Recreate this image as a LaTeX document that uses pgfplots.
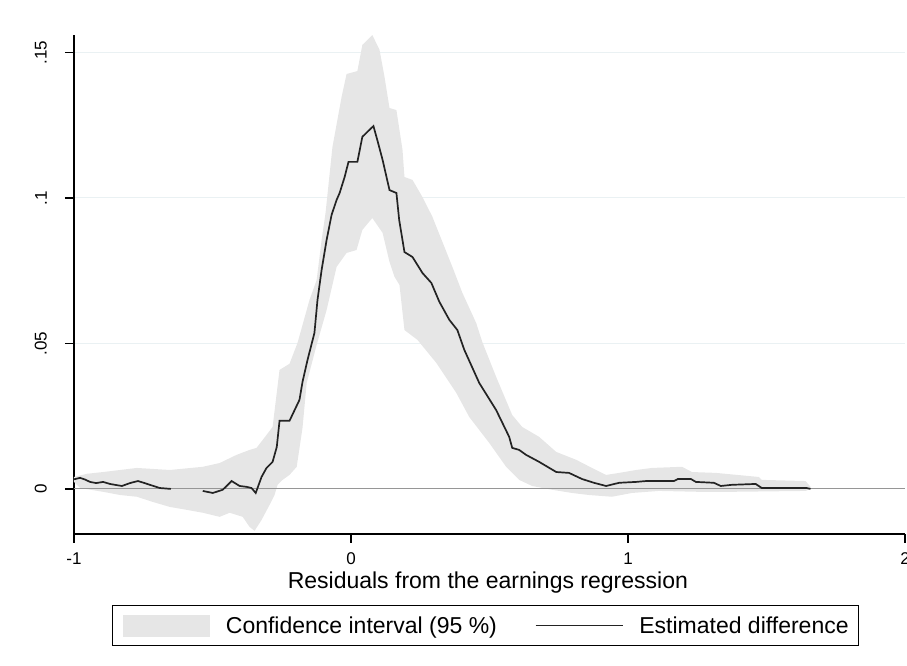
\documentclass[border=0pt]{standalone}
\usepackage{fontspec}
\setmainfont{Liberation Sans}
\usepackage{pgfplots}
\pgfplotsset{compat=1.18}
\definecolor{band}{RGB}{230,230,230}
\definecolor{est}{RGB}{35,35,35}
\definecolor{gridc}{RGB}{234,241,243}
\definecolor{zero}{RGB}{150,150,150}

\begin{document}
\begin{tikzpicture}
\path[use as bounding box] (-74pt,-132pt) rectangle (833pt,534pt);
\begin{axis}[
    at={(0,0)}, anchor=south west,
    scale only axis, width=831pt, height=499pt,
    xmin=-1, xmax=2, ymin=-0.0155, ymax=0.156,
    axis x line*=bottom, axis y line*=left,
    axis line style={line width=1.3pt, black, -},
    xtick={-1,0,1,2}, xticklabels={-1,0,1,2},
    ytick={0,0.05,0.1,0.15},
    yticklabels={\rotatebox{90}{0},\rotatebox{90}{.05},\rotatebox{90}{.1},\rotatebox{90}{.15}},
    tick align=outside, major tick length=9pt,
    tick style={line width=1.3pt, black},
    ymajorgrids, grid style={gridc, line width=1pt},
    ticklabel style={font=\fontsize{17}{20}\selectfont},
    yticklabel style={anchor=east, inner sep=0pt, xshift=-18pt},
    xticklabel shift=6pt,
    xlabel={Residuals from the earnings regression},
    xlabel style={at={(axis description cs:0.498,0)}, anchor=base, yshift=-54pt,
        font=\fontsize{23}{26}\selectfont},
    unbounded coords=jump,
    legend columns=2,
    legend cell align=left,
    legend style={at={(axis description cs:0.4955,-0.1423)}, anchor=north,
        draw=black, line width=1pt, font=\fontsize{23}{26}\selectfont,
        inner xsep=10pt, inner ysep=9pt,
        nodes={inner sep=0pt},
        /tikz/column sep=16pt,
        /tikz/every even column/.append style={column sep=38pt}},
]

% confidence band: upper edge left to right, lower edge back
\addplot[fill=band, draw=none,
    legend image code/.code={\fill[band] (0pt,-11pt) rectangle (87pt,11pt);}]
    coordinates {
    (-1.000,0.0041) (-0.953,0.0052) (-0.895,0.0058) (-0.773,0.0072)
    (-0.654,0.0065) (-0.535,0.0076) (-0.474,0.0089) (-0.413,0.0117)
    (-0.366,0.0134) (-0.341,0.0141) (-0.319,0.0168) (-0.283,0.0213)
    (-0.258,0.0409) (-0.222,0.0430) (-0.193,0.0502) (-0.150,0.0649)
    (-0.124,0.0718) (-0.106,0.0856) (-0.092,0.0948) (-0.067,0.1175)
    (-0.034,0.1347) (-0.016,0.1426) (0.023,0.1436) (0.041,0.1526)
    (0.077,0.1560) (0.103,0.1509) (0.121,0.1416) (0.139,0.1309)
    (0.164,0.1302) (0.186,0.1165) (0.193,0.1072) (0.222,0.1062)
    (0.258,0.1003) (0.294,0.0935) (0.330,0.0849) (0.366,0.0763)
    (0.402,0.0674) (0.452,0.0570) (0.474,0.0505) (0.524,0.0385)
    (0.582,0.0254) (0.618,0.0213) (0.679,0.0179) (0.741,0.0127)
    (0.813,0.0100) (0.870,0.0072) (0.921,0.0048) (0.968,0.0055)
    (1.029,0.0065) (1.086,0.0072) (1.195,0.0076) (1.231,0.0058)
    (1.317,0.0055) (1.472,0.0041) (1.483,0.0031) (1.641,0.0027)
    (1.659,0.0007)
    (1.659,0.0000) (1.641,-0.0007) (1.375,-0.0010) (1.256,-0.0010)
    (1.112,-0.0007) (1.014,-0.0014) (0.942,-0.0027) (0.859,-0.0021)
    (0.798,-0.0014) (0.726,-0.0003) (0.654,0.0010) (0.607,0.0031)
    (0.560,0.0076) (0.499,0.0158) (0.427,0.0247) (0.380,0.0330)
    (0.308,0.0433) (0.240,0.0512) (0.193,0.0546) (0.175,0.0701)
    (0.157,0.0729) (0.139,0.0780) (0.114,0.0880) (0.077,0.0931)
    (0.041,0.0890) (0.020,0.0821) (-0.016,0.0811) (-0.052,0.0763)
    (-0.088,0.0615) (-0.124,0.0495) (-0.160,0.0364) (-0.175,0.0210)
    (-0.196,0.0076) (-0.222,0.0048) (-0.247,0.0031) (-0.265,0.0014)
    (-0.276,-0.0021) (-0.294,-0.0055) (-0.323,-0.0107) (-0.348,-0.0144)
    (-0.366,-0.0131) (-0.391,-0.0096) (-0.438,-0.0082) (-0.474,-0.0096)
    (-0.535,-0.0082) (-0.593,-0.0072) (-0.654,-0.0062) (-0.715,-0.0045)
    (-0.773,-0.0027) (-0.834,-0.0021) (-0.895,-0.0010) (-0.978,0.0003)
    (-1.000,0.0024)
    } -- cycle;

\addplot[zero, line width=1pt, forget plot] coordinates {(-1,0) (2,0)};

% estimated difference (gap where no estimate)
\addplot[est, line width=1.7pt,
    legend image code/.code={\draw[est, line width=1.4pt] (0pt,0pt) -- (87pt,0pt);}]
    coordinates {
    (-1.000,0.0033) (-0.978,0.0038) (-0.960,0.0032) (-0.942,0.0024)
    (-0.920,0.0020) (-0.895,0.0024) (-0.870,0.0017) (-0.852,0.0014)
    (-0.827,0.0010) (-0.798,0.0020) (-0.769,0.0027) (-0.745,0.0020)
    (-0.726,0.0014) (-0.690,0.0003) (-0.650,0.0000)
    (-0.600,nan)
    (-0.535,-0.0007) (-0.499,-0.0014) (-0.463,-0.0003) (-0.431,0.0027)
    (-0.402,0.0010) (-0.377,0.0007) (-0.359,0.0003) (-0.344,-0.0014)
    (-0.323,0.0041) (-0.305,0.0072) (-0.283,0.0093) (-0.268,0.0144)
    (-0.258,0.0234) (-0.222,0.0234) (-0.186,0.0306) (-0.175,0.0368)
    (-0.157,0.0443) (-0.132,0.0536) (-0.121,0.0649) (-0.106,0.0753)
    (-0.088,0.0856) (-0.070,0.0942) (-0.052,0.0993) (-0.041,0.1017)
    (-0.023,0.1072) (-0.009,0.1124) (0.023,0.1124) (0.041,0.1210)
    (0.059,0.1227) (0.081,0.1247) (0.095,0.1199) (0.114,0.1131)
    (0.139,0.1027) (0.164,0.1017) (0.174,0.0924) (0.193,0.0814)
    (0.222,0.0797) (0.258,0.0742) (0.290,0.0708) (0.319,0.0643)
    (0.355,0.0581) (0.384,0.0546) (0.409,0.0478) (0.463,0.0364)
    (0.524,0.0271) (0.571,0.0179) (0.582,0.0141) (0.607,0.0134)
    (0.632,0.0117) (0.679,0.0093) (0.741,0.0058) (0.787,0.0055)
    (0.834,0.0034) (0.877,0.0021) (0.921,0.0010) (0.968,0.0021)
    (1.029,0.0024) (1.065,0.0027) (1.112,0.0027) (1.166,0.0027)
    (1.180,0.0034) (1.227,0.0034) (1.245,0.0024) (1.310,0.0021)
    (1.335,0.0010) (1.375,0.0014) (1.461,0.0017) (1.483,0.0003)
    (1.645,0.0003) (1.659,0.0000)
    };

\draw[color={rgb,255:red,242;green,245;blue,246}, line width=1pt]
    (rel axis cs:-0.077,1.0501) -- (rel axis cs:0.995,1.0501);

\legend{Confidence interval (95 \%), Estimated difference}
\end{axis}
\end{tikzpicture}
\end{document}
